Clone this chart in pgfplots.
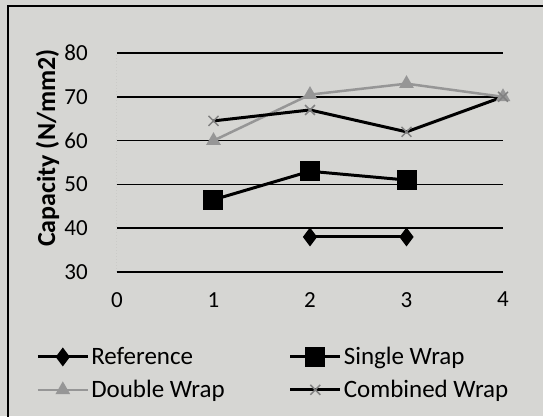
\documentclass[border=0pt]{standalone}
\usepackage{pgfplots}
\pgfplotsset{compat=1.18}
\usepackage{fontspec}
\setmainfont{Carlito}
\definecolor{paper}{RGB}{214,214,211}
\definecolor{dgray}{RGB}{150,150,150}
\begin{document}
\begin{tikzpicture}[x=1pt,y=1pt]
\fill[paper] (-117,-144) rectangle (426,272);
\draw[line width=1.5pt] (-109,-150) -- (-109,266) -- (430,266);
\begin{axis}[
  at={(0,0)}, anchor=south west,
  scale only axis, width=386pt, height=219pt,
  xmin=0, xmax=4, ymin=30, ymax=80,
  xtick={0,1,2,3,4}, ytick={30,40,50,60,70,80},
  xticklabels={0,1,2,3,4}, yticklabels={30,40,50,60,70,80},
  ymajorgrids, major grid style={black, line width=1.5pt},
  axis line style={draw=none},
  major tick length=0pt,
  yticklabel style={font=\fontsize{23}{27}\selectfont, inner sep=0pt, xshift=-29pt},
  xticklabel style={font=\fontsize{23}{27}\selectfont, inner sep=0pt, yshift=-20pt},
  ylabel={\bfseries Capacity (N/mm2)},
  ylabel style={font=\fontsize{26}{30}\selectfont, at={(axis description cs:-0.18,0.566)}, anchor=center},
  legend columns=2, legend cell align=left,
  legend style={draw=none, fill=none, at={(axis description cs:0.405,-0.463)}, anchor=center,
    font=\fontsize{25}{28}\selectfont, row sep=10pt, nodes={inner xsep=2pt},
    /tikz/every even column/.append style={column sep=62pt}},
  legend image code/.code={\draw[mark repeat=2, mark phase=2, #1] plot coordinates {(0pt,0pt) (25pt,0pt) (50pt,0pt)};},
]
\draw[dotted, gray, line width=1pt] (axis cs:0,30) -- (axis cs:0,80);
\addplot[black, line width=3pt, mark=diamond*, mark size=7pt, mark options={solid}] coordinates {(2,38) (3,38)};
\addlegendentry{Reference}
\addplot[black, line width=3pt, mark=square*, mark size=8.5pt] coordinates {(1,46.5) (2,53) (3,51)};
\addlegendentry{Single Wrap}
\addplot[dgray, line width=2.5pt, mark=triangle*, mark size=6pt] coordinates {(1,60) (2,70.5) (3,73) (4,70)};
\addlegendentry{Double Wrap}
\addplot[black, line width=3pt, mark=x, mark size=7pt, mark options={line width=1.5pt, gray}] coordinates {(1,64.5) (2,67) (3,62) (4,70)};
\addlegendentry{Combined Wrap}
\end{axis}
\pgfresetboundingbox
\useasboundingbox (-117,-144) rectangle (426,272);
\end{tikzpicture}
\end{document}
